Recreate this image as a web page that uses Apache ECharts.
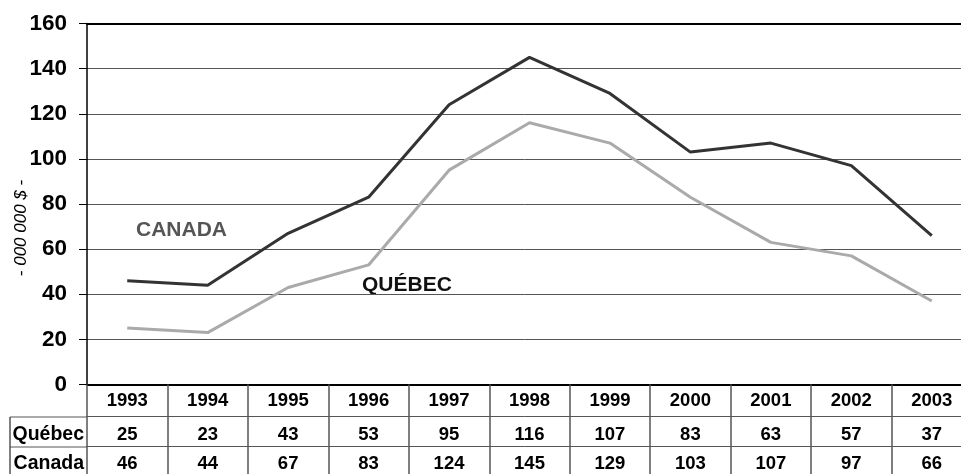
<!DOCTYPE html>
<html>
<head>
<meta charset="utf-8">
<script src="https://cdn.jsdelivr.net/npm/echarts@6/dist/echarts.min.js"></script>
<style>
html, body { margin: 0; padding: 0; background: #fff; }
#main { width: 961px; height: 474px; }
</style>
</head>
<body>
<div id="main"></div>
<script>
var years = ['1993', '1994', '1995', '1996', '1997', '1998', '1999', '2000', '2001', '2002', '2003'];
var quebec = [25, 23, 43, 53, 95, 116, 107, 83, 63, 57, 37];
var canada = [46, 44, 67, 83, 124, 145, 129, 103, 107, 97, 66];
var yTicks = [0, 20, 40, 60, 80, 100, 120, 140, 160];

var FONT = 'Liberation Sans, Arial, sans-serif';

function drawChart() {
    var myChart = echarts.init(document.getElementById('main'));

    function tableAxis(values, name, offset, margin) {
        return {
            type: 'category',
            data: values.map(String),
            position: 'bottom',
            offset: offset,
            boundaryGap: true,
            axisLine: { show: true, lineStyle: { color: '#555', width: 1 } },
            axisTick: { show: false },
            axisLabel: {
                interval: 0, margin: margin,
                color: '#000', fontFamily: FONT, fontWeight: 'bold', fontSize: 18.5
            },
            name: name,
            nameLocation: 'start',
            nameGap: 3,
            nameTextStyle: {
                color: '#000', fontFamily: FONT, fontWeight: 'bold', fontSize: 19.5,
                verticalAlign: 'top', align: 'right', padding: [margin - 1, 0, 0, 0]
            }
        };
    }

    var option = {
        animation: false,
        backgroundColor: '#fff',
        grid: { left: 87, top: 23.5, width: 885, height: 361, outerBoundsMode: 'none', containLabel: false },
        xAxis: [
            {
                type: 'category',
                data: years,
                boundaryGap: true,
                axisLine: { show: true, lineStyle: { color: '#000', width: 2 } },
                axisTick: { show: true, interval: 0, length: 90, lineStyle: { color: '#555', width: 1.5 } },
                axisLabel: {
                    interval: 0, margin: 7,
                    color: '#000', fontFamily: FONT, fontWeight: 'bold', fontSize: 18.5
                }
            },
            tableAxis(quebec, 'Québec', 32, 9),
            tableAxis(canada, 'Canada', 62, 8),
            {
                type: 'category',
                data: years,
                position: 'top',
                axisLine: { show: true, lineStyle: { color: '#000', width: 2 } },
                axisTick: { show: false },
                axisLabel: { show: false }
            }
        ],
        yAxis: {
            type: 'value',
            min: 0,
            max: 160,
            interval: 20,
            axisLine: { show: true, lineStyle: { color: '#000', width: 1.5 } },
            axisTick: { show: true, length: 8, lineStyle: { color: '#000' } },
            axisLabel: {
                margin: 20,
                color: '#000', fontFamily: FONT, fontWeight: 'bold', fontSize: 22.5,
                formatter: function (v) { return yTicks.indexOf(v) >= 0 ? String(v) : ''; }
            },
            splitLine: { show: true, lineStyle: { color: '#555', width: 1 } }
        },
        graphic: [
            { type: 'line', shape: { x1: 10, y1: 417, x2: 87, y2: 417 }, style: { stroke: '#555', lineWidth: 1 } },
            { type: 'line', shape: { x1: 10, y1: 447, x2: 87, y2: 447 }, style: { stroke: '#555', lineWidth: 1 } },
            { type: 'line', shape: { x1: 10, y1: 417, x2: 10, y2: 474 }, style: { stroke: '#555', lineWidth: 1.5 } },
            {
                type: 'text', x: 21, y: 228, rotation: Math.PI / 2,
                style: {
                    text: '- 000 000 $ -', fill: '#000', font: 'italic 17px ' + FONT,
                    align: 'center', verticalAlign: 'middle'
                }
            },
            {
                type: 'text', left: 136, top: 220,
                style: { text: 'CANADA', fill: '#555', font: 'bold 21px ' + FONT }
            },
            {
                type: 'text', left: 362, top: 275,
                style: { text: 'QUÉBEC', fill: '#111', font: 'bold 21px ' + FONT }
            }
        ],
        series: [
            {
                name: 'Canada',
                type: 'line',
                data: canada,
                symbol: 'none',
                lineStyle: { color: '#333', width: 3 }
            },
            {
                name: 'Québec',
                type: 'line',
                data: quebec,
                symbol: 'none',
                lineStyle: { color: '#aaa', width: 3 }
            }
        ]
    };

    myChart.setOption(option);
}

drawChart();
</script>
</body>
</html>
